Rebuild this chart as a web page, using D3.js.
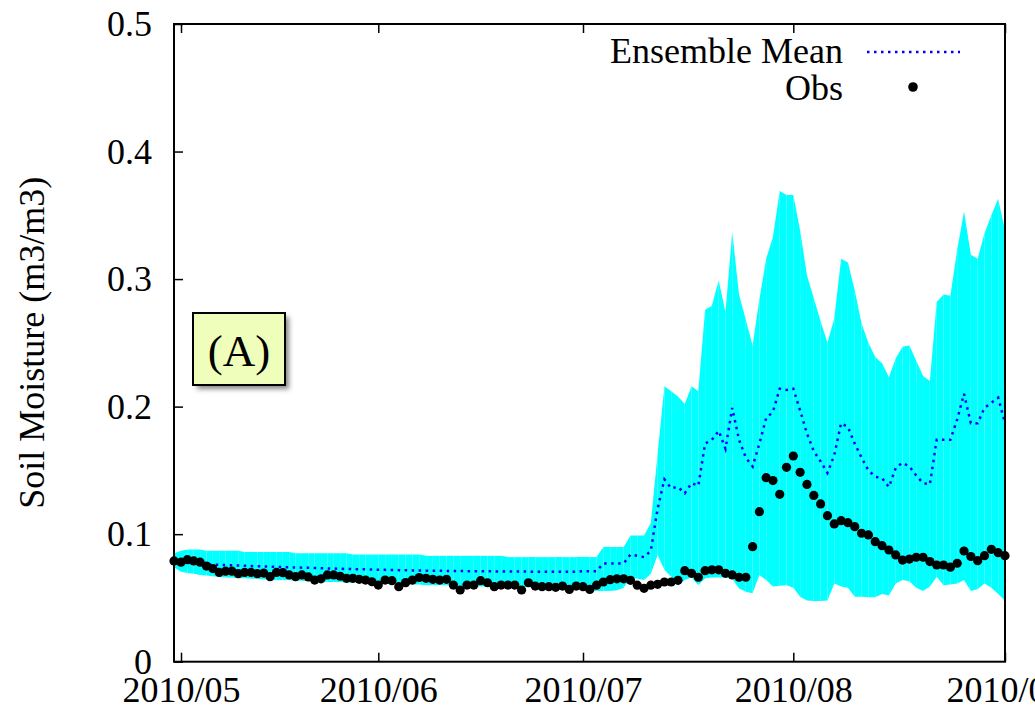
<!DOCTYPE html>
<html>
<head>
<meta charset="utf-8">
<script src="https://cdn.jsdelivr.net/npm/d3@7"></script>
<style>
  body { margin: 0; background: #fff; }
  svg text { font-family: "Liberation Serif", "Times New Roman", serif; fill: #000; }
</style>
</head>
<body>
<div id="chart"></div>
<script>
// daily values, 2010/04/30 .. 2010/09/01
const startDate = "2010-04-30"
const endDate = "2010-09-02"

const obs = [0.079,
  0.078, 0.080, 0.079, 0.078, 0.075, 0.073, 0.070, 0.071, 0.071, 0.069, 0.070, 0.070, 0.069, 0.0695, 0.0667, 0.070,
  0.0698, 0.068, 0.0667, 0.068, 0.0665, 0.064, 0.065, 0.068, 0.068, 0.067, 0.0654, 0.0654, 0.0646, 0.064, 0.0627,
  0.0601, 0.064, 0.0635, 0.0588, 0.062, 0.064, 0.066, 0.0654, 0.0646, 0.064, 0.0646, 0.0601, 0.0562, 0.0601, 0.0601,
  0.0635, 0.0619, 0.0588, 0.0601, 0.0601, 0.0601, 0.0562, 0.0619, 0.0593, 0.0588, 0.0588, 0.0583, 0.0593, 0.0567, 0.0593,
  0.0588, 0.0567, 0.060, 0.0625, 0.0643, 0.065, 0.065, 0.0638, 0.060, 0.0575, 0.060, 0.0607, 0.0625, 0.0625, 0.0638,
  0.0714, 0.0693, 0.0662, 0.0714, 0.072, 0.072, 0.0693, 0.068, 0.0662, 0.0662, 0.0902, 0.1176, 0.1443, 0.142, 0.1312, 0.1524,
  0.1613, 0.1485, 0.139, 0.1304, 0.1237, 0.1145, 0.108, 0.1106, 0.109, 0.1059, 0.1007, 0.0994, 0.0941, 0.091, 0.0876,
  0.0837, 0.0797, 0.0805, 0.0819, 0.0819, 0.0785, 0.0758, 0.0758, 0.0741, 0.0772, 0.0868, 0.0825, 0.0792, 0.0831, 0.0881, 0.0855,
  0.0831]

const ensMean = [0.0795,
  0.0785, 0.0778, 0.0772, 0.0768, 0.0765, 0.0762, 0.076, 0.0758, 0.0756, 0.0754, 0.0752, 0.075, 0.0748, 0.0747, 0.0745, 0.0744,
  0.0742, 0.074, 0.0739, 0.0737, 0.0736, 0.0734, 0.0733, 0.0731, 0.073, 0.0729, 0.0727, 0.0726, 0.0725, 0.0724, 0.0722,
  0.0721, 0.072, 0.0719, 0.0718, 0.0717, 0.0716, 0.0715, 0.0714, 0.0714, 0.0713, 0.0712, 0.0711, 0.0711, 0.071, 0.071,
  0.0709, 0.0709, 0.0708, 0.0708, 0.0707, 0.0707, 0.0707, 0.0706, 0.0706, 0.0706, 0.0705, 0.0705, 0.0705, 0.0705, 0.0705,
  0.071, 0.071, 0.071, 0.077, 0.077, 0.077, 0.077, 0.084, 0.083, 0.082, 0.087, 0.120, 0.143, 0.136, 0.137,
  0.132, 0.140, 0.138, 0.171, 0.174, 0.181, 0.167, 0.199, 0.174, 0.160, 0.153, 0.171, 0.191, 0.196, 0.214, 0.213,
  0.214, 0.197, 0.179, 0.165, 0.157, 0.148, 0.162, 0.187, 0.184, 0.171, 0.160, 0.150, 0.145, 0.144, 0.137,
  0.152, 0.156, 0.153, 0.146, 0.140, 0.139, 0.174, 0.174, 0.174, 0.190, 0.210, 0.187, 0.187, 0.199, 0.203, 0.207,
  0.187]

const ensMax = [0.085,
  0.087, 0.088, 0.088, 0.088, 0.087, 0.087, 0.087, 0.087, 0.087, 0.087, 0.086, 0.086, 0.086, 0.086, 0.086, 0.086,
  0.086, 0.086, 0.085, 0.085, 0.085, 0.085, 0.085, 0.085, 0.085, 0.085, 0.085, 0.084, 0.084, 0.084, 0.084,
  0.084, 0.084, 0.084, 0.084, 0.084, 0.084, 0.084, 0.083, 0.083, 0.083, 0.083, 0.083, 0.083, 0.083, 0.083,
  0.083, 0.083, 0.083, 0.083, 0.082, 0.082, 0.082, 0.082, 0.082, 0.082, 0.082, 0.082, 0.082, 0.082, 0.082,
  0.082, 0.082, 0.082, 0.090, 0.090, 0.090, 0.090, 0.099, 0.099, 0.099, 0.109, 0.163, 0.216, 0.212, 0.208,
  0.202, 0.216, 0.212, 0.276, 0.279, 0.299, 0.274, 0.337, 0.288, 0.268, 0.248, 0.284, 0.316, 0.333, 0.369, 0.366,
  0.366, 0.338, 0.303, 0.285, 0.267, 0.250, 0.269, 0.316, 0.313, 0.291, 0.265, 0.250, 0.239, 0.234, 0.223,
  0.238, 0.247, 0.248, 0.236, 0.224, 0.220, 0.282, 0.288, 0.287, 0.323, 0.353, 0.319, 0.316, 0.336, 0.350, 0.363,
  0.338]

const ensMin = [0.074,
  0.0705, 0.0695, 0.069, 0.068, 0.0675, 0.067, 0.0665, 0.066, 0.066, 0.0655, 0.0655, 0.065, 0.065, 0.0645, 0.0645, 0.064,
  0.064, 0.064, 0.0635, 0.0635, 0.063, 0.063, 0.063, 0.0625, 0.0625, 0.0625, 0.062, 0.062, 0.062, 0.0615, 0.0615,
  0.0615, 0.061, 0.061, 0.061, 0.0605, 0.0605, 0.0605, 0.060, 0.060, 0.060, 0.060, 0.0595, 0.0595, 0.0595, 0.0595,
  0.059, 0.059, 0.059, 0.059, 0.0585, 0.0585, 0.0585, 0.0585, 0.058, 0.058, 0.058, 0.058, 0.0575, 0.0575, 0.0575,
  0.056, 0.0555, 0.0555, 0.0555, 0.0555, 0.056, 0.058, 0.066, 0.065, 0.064, 0.069, 0.0837, 0.072, 0.0667, 0.060,
  0.064, 0.066, 0.060, 0.0655, 0.066, 0.066, 0.066, 0.065, 0.0573, 0.0549, 0.0536, 0.068, 0.064, 0.059, 0.0595, 0.060,
  0.058, 0.051, 0.048, 0.0475, 0.0475, 0.048, 0.0613, 0.059, 0.058, 0.051, 0.051, 0.0505, 0.0505, 0.053, 0.052,
  0.0613, 0.064, 0.063, 0.058, 0.0555, 0.059, 0.0667, 0.060, 0.0605, 0.0613, 0.064, 0.0555, 0.057, 0.0613, 0.058, 0.053,
  0.0478]

const yTicks = [0, 0.1, 0.2, 0.3, 0.4, 0.5]

const parseDate = d3.timeParse("%Y-%m-%d")
const formatMonth = d3.timeFormat("%Y/%m")
const days = d3.timeDay.range(parseDate(startDate), parseDate(endDate))
const months = d3.timeMonth.range(parseDate("2010-05-01"), parseDate("2010-09-02"))

const data = days.map((d, i) => ({
  date: d, obs: obs[i], mean: ensMean[i], hi: ensMax[i], lo: ensMin[i]
}))

const W = 1035, H = 715
const pLeft = 174, pRight = 1005, pTop = 24, pBottom = 661.7

const svg = d3.select("#chart").append("svg")
  .attr("width", W)
  .attr("height", H)

// x axis ticks are not evenly spaced in the original, so a piecewise time scale
const x = d3.scaleTime()
  .domain([parseDate(startDate)].concat(months))
  .range([pLeft, 181, 378.3, 583, 793.3, pRight])

const y = d3.scaleLinear()
  .domain([0, 0.5])
  .range([pBottom, pTop])

// ensemble spread, one quad per day so the seams show like the original
const band = svg.append("g")
for (let i = 0; i < data.length - 1; i++) {
  const a = data[i], b = data[i + 1]
  band.append("path")
    .attr("d", "M" + x(a.date) + "," + y(a.hi) +
      "L" + x(b.date) + "," + y(b.hi) +
      "L" + x(b.date) + "," + y(b.lo) +
      "L" + x(a.date) + "," + y(a.lo) + "Z")
    .attr("fill", "#00ffff")
}

// ensemble mean
const line = d3.line()
  .x(d => x(d.date))
  .y(d => y(d.mean))

svg.append("path")
  .datum(data)
  .attr("d", line)
  .attr("fill", "none")
  .attr("stroke", "#0000ff")
  .attr("stroke-width", 2.5)
  .attr("stroke-dasharray", "2.5,4.5")

// observations
svg.append("g").selectAll("circle")
  .data(data)
  .enter().append("circle")
  .attr("cx", d => x(d.date))
  .attr("cy", d => y(d.obs))
  .attr("r", 4.6)
  .attr("fill", "#000")

// axes
const xAxis = d3.axisBottom(x)
  .tickValues(months)
  .tickFormat(formatMonth)
  .tickSizeInner(-9)
  .tickSizeOuter(0)
  .tickPadding(14.5)

const xAxisTop = d3.axisTop(x)
  .tickValues(months)
  .tickFormat("")
  .tickSizeInner(-9)
  .tickSizeOuter(0)

const yAxis = d3.axisLeft(y)
  .tickValues(yTicks)
  .tickFormat(d => d === 0 ? "0" : d3.format(".1f")(d))
  .tickSizeInner(-9)
  .tickSizeOuter(0)
  .tickPadding(22)

const gx = svg.append("g")
  .attr("transform", "translate(0," + pBottom + ")")
  .call(xAxis)
const gxt = svg.append("g")
  .attr("transform", "translate(0," + pTop + ")")
  .call(xAxisTop)
const gy = svg.append("g")
  .attr("transform", "translate(" + pLeft + ",0)")
  .call(yAxis)

;[gx, gxt, gy].forEach(g => {
  g.select(".domain").remove()
  g.selectAll(".tick line").attr("stroke", "#000").attr("stroke-width", 1.5)
  g.selectAll("text")
    .attr("font-family", '"Liberation Serif", "Times New Roman", serif')
    .attr("font-size", "36px")
    .attr("fill", "#000")
})

// frame
svg.append("rect")
  .attr("x", pLeft)
  .attr("y", pTop)
  .attr("width", pRight - pLeft)
  .attr("height", pBottom - pTop)
  .attr("fill", "none")
  .attr("stroke", "#000")
  .attr("stroke-width", 2)

// y axis label
svg.append("text")
  .attr("transform", "translate(44," + ((pTop + pBottom) / 2) + ") rotate(-90)")
  .attr("text-anchor", "middle")
  .attr("font-size", "36px")
  .text("Soil Moisture (m3/m3)")

// legend
const legend = svg.append("g")
legend.append("text")
  .attr("x", 843).attr("y", 63)
  .attr("text-anchor", "end")
  .attr("font-size", "36px")
  .text("Ensemble Mean")
legend.append("line")
  .attr("x1", 867).attr("x2", 960)
  .attr("y1", 52).attr("y2", 52)
  .attr("stroke", "#0000ff")
  .attr("stroke-width", 2.5)
  .attr("stroke-dasharray", "2.5,4.5")
legend.append("text")
  .attr("x", 843).attr("y", 100)
  .attr("text-anchor", "end")
  .attr("font-size", "36px")
  .text("Obs")
legend.append("circle")
  .attr("cx", 913).attr("cy", 87)
  .attr("r", 4.8)
  .attr("fill", "#000")

// panel label
const defs = svg.append("defs")
const blur = defs.append("filter").attr("id", "shadow")
  .attr("x", "-20%").attr("y", "-20%").attr("width", "150%").attr("height", "150%")
blur.append("feGaussianBlur").attr("stdDeviation", 2.5)

svg.append("rect")
  .attr("x", 197).attr("y", 317)
  .attr("width", 92).attr("height", 72)
  .attr("fill", "#888")
  .attr("filter", "url(#shadow)")
svg.append("rect")
  .attr("x", 193).attr("y", 313)
  .attr("width", 92).attr("height", 72)
  .attr("fill", "#efffbb")
  .attr("stroke", "#000")
  .attr("stroke-width", 2)
svg.append("text")
  .attr("x", 239).attr("y", 366)
  .attr("text-anchor", "middle")
  .attr("font-size", "45px")
  .text("(A)")
</script>
</body>
</html>
